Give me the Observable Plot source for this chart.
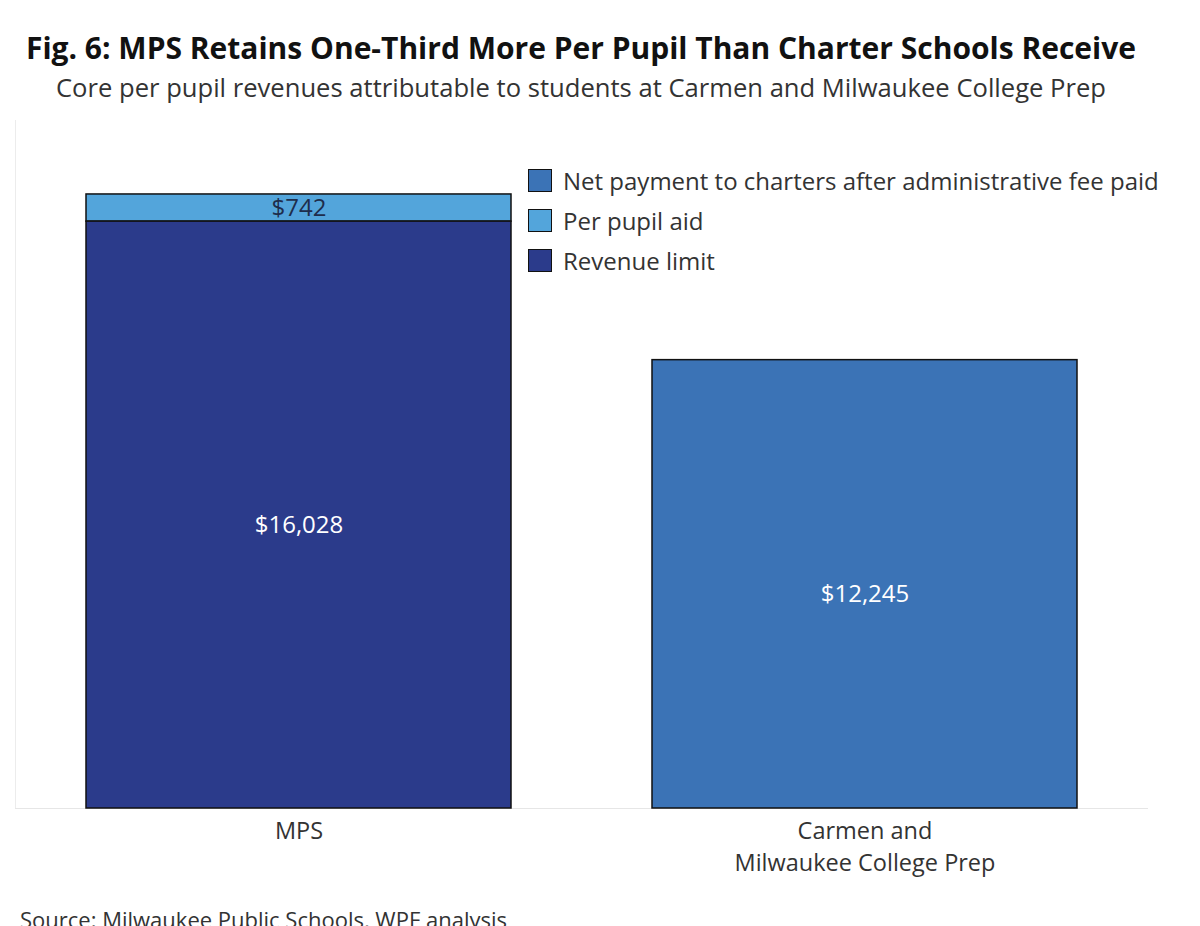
<!DOCTYPE html>
<html>
<head>
<meta charset="utf-8">
<script src="https://cdn.jsdelivr.net/npm/d3@7"></script>
<script src="https://cdn.jsdelivr.net/npm/@observablehq/plot@0.6"></script>
<style>
  html, body { margin: 0; padding: 0; background: #fff; width: 1200px; height: 926px; overflow: hidden; position: relative; font-family: "Open Sans", sans-serif; }
  #title { position: absolute; left: 0; width: 1162px; top: 33px; text-align: center; font-size: 30px; font-weight: 700; line-height: 1; color: #111; white-space: nowrap; }
  #subtitle { position: absolute; left: 0; width: 1162px; top: 75px; text-align: center; font-size: 25.6px; line-height: 1; color: #333; white-space: nowrap; }
  #chart { position: absolute; left: 0; top: 120px; }
  #legend { position: absolute; left: 528px; top: 160px; }
  .item { display: flex; align-items: center; height: 40px; font-size: 24px; color: #333; white-space: nowrap; }
  .sw { width: 24px; height: 23px; border: 1px solid #111; box-sizing: border-box; margin-right: 11px; }
  #caption { position: absolute; left: 20px; top: 908px; font-size: 22px; line-height: 1; color: #333; white-space: nowrap; }
</style>
</head>
<body>
<div id="title">Fig. 6: MPS Retains One-Third More Per Pupil Than Charter Schools Receive</div>
<div id="subtitle">Core per pupil revenues attributable to students at Carmen and Milwaukee College Prep</div>
<div id="chart"></div>
<div id="legend"></div>
<div id="caption">Source: Milwaukee Public Schools, WPF analysis</div>
<script>
const categories = ["MPS", "Carmen and\nMilwaukee College Prep"];
const seriesNames = ["Net payment to charters after administrative fee paid", "Per pupil aid", "Revenue limit"];
const seriesColors = ["#3b73b6", "#53a5db", "#2b3b8b"];
const netPayment = [0, 12245];
const perPupilAid = [742, 0];
const revenueLimit = [16028, 0];
const labelColors = ["#ffffff", "#1e2d4c", "#ffffff"];
const stackOrder = ["Revenue limit", "Per pupil aid", "Net payment to charters after administrative fee paid"];

const seriesValues = [netPayment, perPupilAid, revenueLimit];
const rows = [];
seriesNames.forEach((s, si) => {
  categories.forEach((c, ci) => {
    const v = seriesValues[si][ci];
    if (v > 0) rows.push({category: c, series: s, value: v, labelColor: labelColors[si]});
  });
});

const fmt = d3.format("$,");
const isLarge = d => d.labelColor === "#ffffff";
const labelOpts = {x: "category", y: "value", z: "series", order: stackOrder, text: d => fmt(d.value), fill: "labelColor", fontSize: 24};

const chart = Plot.plot({
  width: 1200,
  height: 760,
  marginLeft: 15,
  marginRight: 52,
  marginTop: 0,
  marginBottom: 72,
  style: {fontFamily: "Open Sans, sans-serif", background: "transparent"},
  x: {domain: categories, paddingInner: 0.25, paddingOuter: 0.125, label: null},
  y: {domain: [0, 18790], axis: null},
  color: {domain: seriesNames, range: seriesColors},
  marks: [
    Plot.frame({anchor: "left", stroke: "#ececec"}),
    Plot.ruleY([0], {stroke: "#e6e6e6", strokeWidth: 1}),
    Plot.barY(rows, {x: "category", y: "value", fill: "series", z: "series", order: stackOrder, stroke: "#111", strokeWidth: 1.5}),
    Plot.text(rows, Plot.filter(isLarge, Plot.stackY({...labelOpts, dy: 10}))),
    Plot.text(rows, Plot.filter(d => !isLarge(d), Plot.stackY(labelOpts))),
    Plot.axisX({tickSize: 0, tickPadding: 8, fontSize: 23.5, lineHeight: 1.36, lineAnchor: "top", color: "#333", label: null})
  ]
});
document.getElementById("chart").appendChild(chart);

const legend = document.getElementById("legend");
seriesNames.forEach((s, i) => {
  const it = document.createElement("div");
  it.className = "item";
  const sw = document.createElement("div");
  sw.className = "sw";
  sw.style.background = seriesColors[i];
  const t = document.createElement("span");
  t.textContent = s;
  it.appendChild(sw);
  it.appendChild(t);
  legend.appendChild(it);
});
</script>
</body>
</html>
